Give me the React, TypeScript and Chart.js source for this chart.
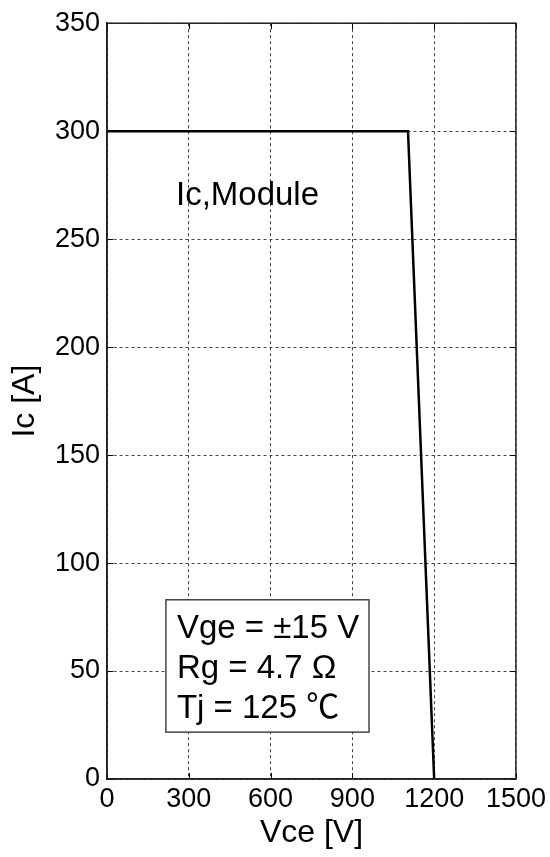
import React, { useEffect, useRef } from "react";
import { Chart, registerables } from "chart.js";

Chart.register(...registerables);

const vce = [0, 1104, 1200];
const ic = [300, 300, 0];
const xTicks = [0, 300, 600, 900, 1200, 1500];
const yTicks = [0, 50, 100, 150, 200, 250, 300, 350];
const moduleLabel = "Ic,Module";
const conditions = ["Vge = ±15 V", "Rg = 4.7 Ω", "Tj = 125 ℃"];

const FONT = "'Liberation Sans', Arial, 'Noto Sans CJK SC', sans-serif";

const overlay = {
  id: "overlay",
  afterDraw(chart: any) {
    const { ctx, chartArea: a, scales } = chart;
    const xs = scales.x;
    const ys = scales.y;
    ctx.save();
    ctx.strokeStyle = "#000";
    ctx.lineWidth = 1;
    const tl = 6;
    xTicks.forEach((v) => {
      const px = Math.round(xs.getPixelForValue(v)) + 0.5;
      ctx.beginPath();
      ctx.moveTo(px, a.bottom);
      ctx.lineTo(px, a.bottom - tl);
      ctx.moveTo(px, a.top);
      ctx.lineTo(px, a.top + tl);
      ctx.stroke();
    });
    yTicks.forEach((v) => {
      const py = Math.round(ys.getPixelForValue(v)) + 0.5;
      ctx.beginPath();
      ctx.moveTo(a.left, py);
      ctx.lineTo(a.left + tl, py);
      ctx.moveTo(a.right, py);
      ctx.lineTo(a.right - tl, py);
      ctx.stroke();
    });
    ctx.strokeStyle = "#222";
    ctx.lineWidth = 1.5;
    ctx.strokeRect(a.left, a.top, a.right - a.left, a.bottom - a.top);

    ctx.fillStyle = "#000";
    ctx.font = `33px ${FONT}`;
    ctx.textBaseline = "alphabetic";
    ctx.textAlign = "left";
    ctx.fillText(moduleLabel, xs.getPixelForValue(253), ys.getPixelForValue(265.6));

    const bx0 = xs.getPixelForValue(216);
    const bx1 = xs.getPixelForValue(961);
    const by0 = ys.getPixelForValue(83);
    const by1 = ys.getPixelForValue(21.7);
    ctx.fillStyle = "#fff";
    ctx.fillRect(bx0, by0, bx1 - bx0, by1 - by0);
    ctx.strokeStyle = "#444";
    ctx.lineWidth = 1.5;
    ctx.strokeRect(bx0, by0, bx1 - bx0, by1 - by0);
    ctx.fillStyle = "#000";
    ctx.font = `33px ${FONT}`;
    const tx = bx0 + 11;
    conditions.forEach((t, i) => {
      ctx.fillText(t, tx, by0 + 38 + i * 40);
    });
    ctx.restore();
  },
};

export default function App() {
  const ref = useRef<HTMLCanvasElement>(null);
  useEffect(() => {
    document.body.style.margin = "0";
    const chart = new Chart(ref.current!, {
      type: "scatter",
      data: {
        datasets: [
          {
            data: vce.map((x, i) => ({ x, y: ic[i] })),
            showLine: true,
            borderColor: "#000",
            borderWidth: 2.5,
            pointRadius: 0,
            fill: false,
            tension: 0,
          },
        ],
      },
      options: {
        animation: false,
        responsive: false,
        layout: { padding: { left: 0, right: 34, top: 20, bottom: 0 } },
        plugins: { legend: { display: false }, tooltip: { enabled: false } },
        scales: {
          x: {
            type: "linear",
            min: 0,
            max: 1500,
            afterBuildTicks: (s: any) => {
              s.ticks = xTicks.map((v) => ({ value: v }));
            },
            afterFit: (s: any) => {
              s.height = 78;
            },
            ticks: {
              color: "#000",
              font: { family: FONT, size: 27 },
              padding: 4,
              maxRotation: 0,
              callback: (v: any) => String(v),
            },
            grid: { color: "#444", lineWidth: 1, drawTicks: false },
            border: { display: true, color: "#222", width: 1.5, dash: [3, 3] },
            title: {
              display: true,
              text: "Vce [V]",
              color: "#000",
              font: { family: FONT, size: 32 },
              padding: { top: 0, bottom: 5 },
            },
          },
          y: {
            type: "linear",
            min: 0,
            max: 350,
            afterBuildTicks: (s: any) => {
              s.ticks = yTicks.map((v) => ({ value: v }));
            },
            afterFit: (s: any) => {
              s.width = 107;
            },
            ticks: {
              color: "#000",
              font: { family: FONT, size: 27 },
              padding: 7,
              callback: (v: any) => String(v),
            },
            grid: { color: "#444", lineWidth: 1, drawTicks: false },
            border: { display: true, color: "#222", width: 1.5, dash: [3, 3] },
            title: {
              display: true,
              text: "Ic [A]",
              color: "#000",
              font: { family: FONT, size: 32 },
              padding: { top: 6, bottom: 0 },
            },
          },
        },
      },
      plugins: [overlay],
    });
    return () => chart.destroy();
  }, []);
  return (
    <div style={{ width: 550, height: 857 }}>
      <canvas ref={ref} width={550} height={857} style={{ display: "block" }} />
    </div>
  );
}
